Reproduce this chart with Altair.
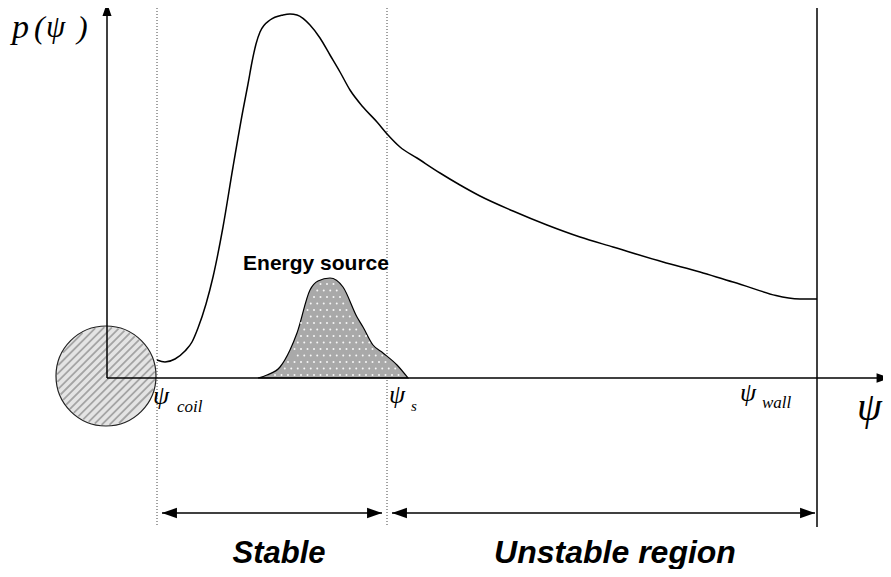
import altair as alt
import pandas as pd
import numpy as np

# ---- data (x = psi, y = p, in schematic units; origin at the axes corner) ----
curve_x = [50, 58, 68, 78, 85, 91, 99, 106, 116, 126, 136, 141, 145, 149, 153, 163, 176,
           183, 190, 203, 213, 223, 233, 243, 256, 270, 281, 293, 310, 333, 353, 373,
           406, 440, 473, 506, 556, 593, 626, 693, 710]
curve_y = [18, 16, 19, 27, 36, 50, 74, 101, 151, 211, 268, 294, 316, 334, 346, 358, 363,
           364, 363, 353, 340, 323, 306, 288, 271, 256, 243, 231, 220, 205, 193, 182,
           167, 153, 141, 131, 116, 106, 96, 79, 79]

src_x = [151, 160, 173, 183, 190, 203, 211, 223, 236, 250, 256, 266, 276, 290, 301]
src_y = [0, 3, 11, 28, 45, 88, 97, 100, 91, 61, 51, 33, 25, 13, 0]

psi_coil, psi_s, psi_wall = 50, 280, 710
x_axis_end, y_axis_end = 770, 363
dim_y = -135
top_y, bottom_y = 370, -149

circle_c = (-1, 2)
circle_r = 50

XD = [-99, 776]
YD = [-191, 370]

xs = alt.Scale(domain=XD, nice=False, zero=False)
ys = alt.Scale(domain=YD, nice=False, zero=False)

def X(f, t="Q"):
    return alt.X(f"{f}:{t}", scale=xs, axis=None)

def Y(f, t="Q"):
    return alt.Y(f"{f}:{t}", scale=ys, axis=None)

# ---- hatched circle ----
circ_df = pd.DataFrame({"x": [circle_c[0]], "y": [circle_c[1]]})
circle_fill = alt.Chart(circ_df).mark_point(
    shape="circle", filled=True, fill="#e4e4e4", size=(2 * circle_r) ** 2, opacity=1, strokeWidth=0
).encode(x=X("x"), y=Y("y"))
circle_outline = alt.Chart(circ_df).mark_point(
    shape="circle", filled=False, stroke="#222", size=(2 * circle_r) ** 2, strokeWidth=1.2, opacity=1
).encode(x=X("x"), y=Y("y"))

rr = circle_r - 1
rows = []
for d in np.arange(-rr + 2, rr - 1, 5.6):
    h = np.sqrt(rr ** 2 - d ** 2)
    nx, ny = d / np.sqrt(2), -d / np.sqrt(2)
    ux, uy = 1 / np.sqrt(2), 1 / np.sqrt(2)
    rows.append({"x": circle_c[0] + nx - h * ux, "y": circle_c[1] + ny - h * uy,
                 "x2": circle_c[0] + nx + h * ux, "y2": circle_c[1] + ny + h * uy})
hatch_df = pd.DataFrame(rows)
hatch = alt.Chart(hatch_df).mark_rule(color="#a4a4a4", strokeWidth=1.8).encode(
    x=X("x"), y=Y("y"), x2="x2:Q", y2="y2:Q")

# ---- vertical guide lines ----
dotted_df = pd.DataFrame({"x": [psi_coil, psi_s], "y": [top_y, top_y], "y2": [bottom_y, bottom_y]})
dotted = alt.Chart(dotted_df).mark_rule(color="#444", strokeWidth=1, strokeDash=[1, 2]).encode(
    x=X("x"), y=Y("y"), y2="y2:Q")
wall_df = pd.DataFrame({"x": [psi_wall], "y": [top_y], "y2": [bottom_y]})
wall = alt.Chart(wall_df).mark_rule(color="#000", strokeWidth=1.5).encode(
    x=X("x"), y=Y("y"), y2="y2:Q")

# ---- axes ----
ax_df = pd.DataFrame({"x": [0, 0], "y": [0, 0], "x2": [x_axis_end, 0], "y2": [0, y_axis_end]})
axes = alt.Chart(ax_df).mark_rule(color="#000", strokeWidth=1.5).encode(
    x=X("x"), y=Y("y"), x2="x2:Q", y2="y2:Q")

# ---- dimension lines ----
dim_df = pd.DataFrame({"x": [psi_coil + 5, psi_s + 5], "x2": [psi_s - 5, psi_wall - 2],
                       "y": [dim_y, dim_y]})
dims = alt.Chart(dim_df).mark_rule(color="#000", strokeWidth=1.5).encode(
    x=X("x"), x2="x2:Q", y=Y("y"))

ARROW = "M0,0L-2,-0.7L-2,0.7Z"
arr_df = pd.DataFrame({
    "x": [0, x_axis_end + 13, psi_coil + 5, psi_s - 5, psi_s + 5, psi_wall - 2],
    "y": [y_axis_end + 12, 0, dim_y, dim_y, dim_y, dim_y],
    "angle": [270, 0, 180, 0, 180, 0],
    "size": [42, 45, 56, 56, 56, 56],
})
arr_df["size"] = arr_df["size"] * 4
arrows = alt.Chart(arr_df).mark_point(shape=ARROW, filled=True, color="#000", opacity=1).encode(
    x=X("x"), y=Y("y"),
    angle=alt.Angle("angle:Q", scale=None),
    size=alt.Size("size:Q", scale=None))

# ---- curves ----
curve_df = pd.DataFrame({"x": curve_x, "y": curve_y})
curve = alt.Chart(curve_df).mark_line(color="#000", strokeWidth=1.5, interpolate="monotone").encode(
    x=X("x"), y=Y("y"))

src_df = pd.DataFrame({"x": src_x, "y": src_y})
source = alt.Chart(src_df).mark_area(
    fill="#a9a9a9", stroke="#000", strokeWidth=1.2, interpolate="monotone", opacity=1
).encode(x=X("x"), y=Y("y"))

# stipple texture inside the energy-source bump
dots = []
for gx in np.arange(src_x[0] + 4, src_x[-1], 6.5):
    top = np.interp(gx, src_x, src_y)
    for gy in np.arange(3, top - 3, 6.5):
        dots.append({"x": gx + (3.25 if int(round(gy / 6.5)) % 2 else 0), "y": gy})
dots_df = pd.DataFrame(dots)
dots_df = dots_df[dots_df["y"] < np.interp(dots_df["x"], src_x, src_y) - 3]
stipple = alt.Chart(dots_df).mark_point(shape="circle", filled=True, color="#ffffff",
                                        size=4, opacity=0.9).encode(x=X("x"), y=Y("y"))

# ---- text ----
serif_df = pd.DataFrame({
    "x": [-95, -73, -61, -30, 46, 70, 282, 304, 633, 655, 750],
    "y": [340, 340, 341, 340, -26, -34, -25, -33, -23, -30, -42],
    "t": ["p", "(", "ψ", ")", "ψ", "coil", "ψ", "s", "ψ", "wall", "ψ"],
    "s": [34, 32, 31, 32, 26, 17, 26, 15, 26, 17, 40],
})
serif_text = alt.Chart(serif_df).mark_text(
    font="Liberation Serif", fontStyle="italic", align="left", baseline="alphabetic", color="#000"
).encode(x=X("x"), y=Y("y"), text="t:N", size=alt.Size("s:Q", scale=None))

region_df = pd.DataFrame({"x": [172, 508], "y": [-185, -185], "t": ["Stable", "Unstable region"],
                          "s": [31, 32]})
region_text = alt.Chart(region_df).mark_text(
    font="Liberation Sans", fontStyle="italic", fontWeight="bold", align="center",
    baseline="alphabetic", color="#000"
).encode(x=X("x"), y=Y("y"), text="t:N", size=alt.Size("s:Q", scale=None))

es_df = pd.DataFrame({"x": [209], "y": [108], "t": ["Energy source"]})
es_text = alt.Chart(es_df).mark_text(
    font="Liberation Sans", fontWeight="bold", fontSize=21, align="center",
    baseline="alphabetic", color="#000"
).encode(x=X("x"), y=Y("y"), text="t:N")

chart = alt.layer(
    circle_fill, hatch, circle_outline, dotted, wall, source, stipple, axes, dims, arrows, curve,
    serif_text, region_text, es_text
).properties(
    width=875, height=561, autosize=alt.AutoSizeParams(type="none"), padding=0
).configure_view(stroke=None)

chart.save("out.html", embed_options={"renderer": "svg", "actions": False})
